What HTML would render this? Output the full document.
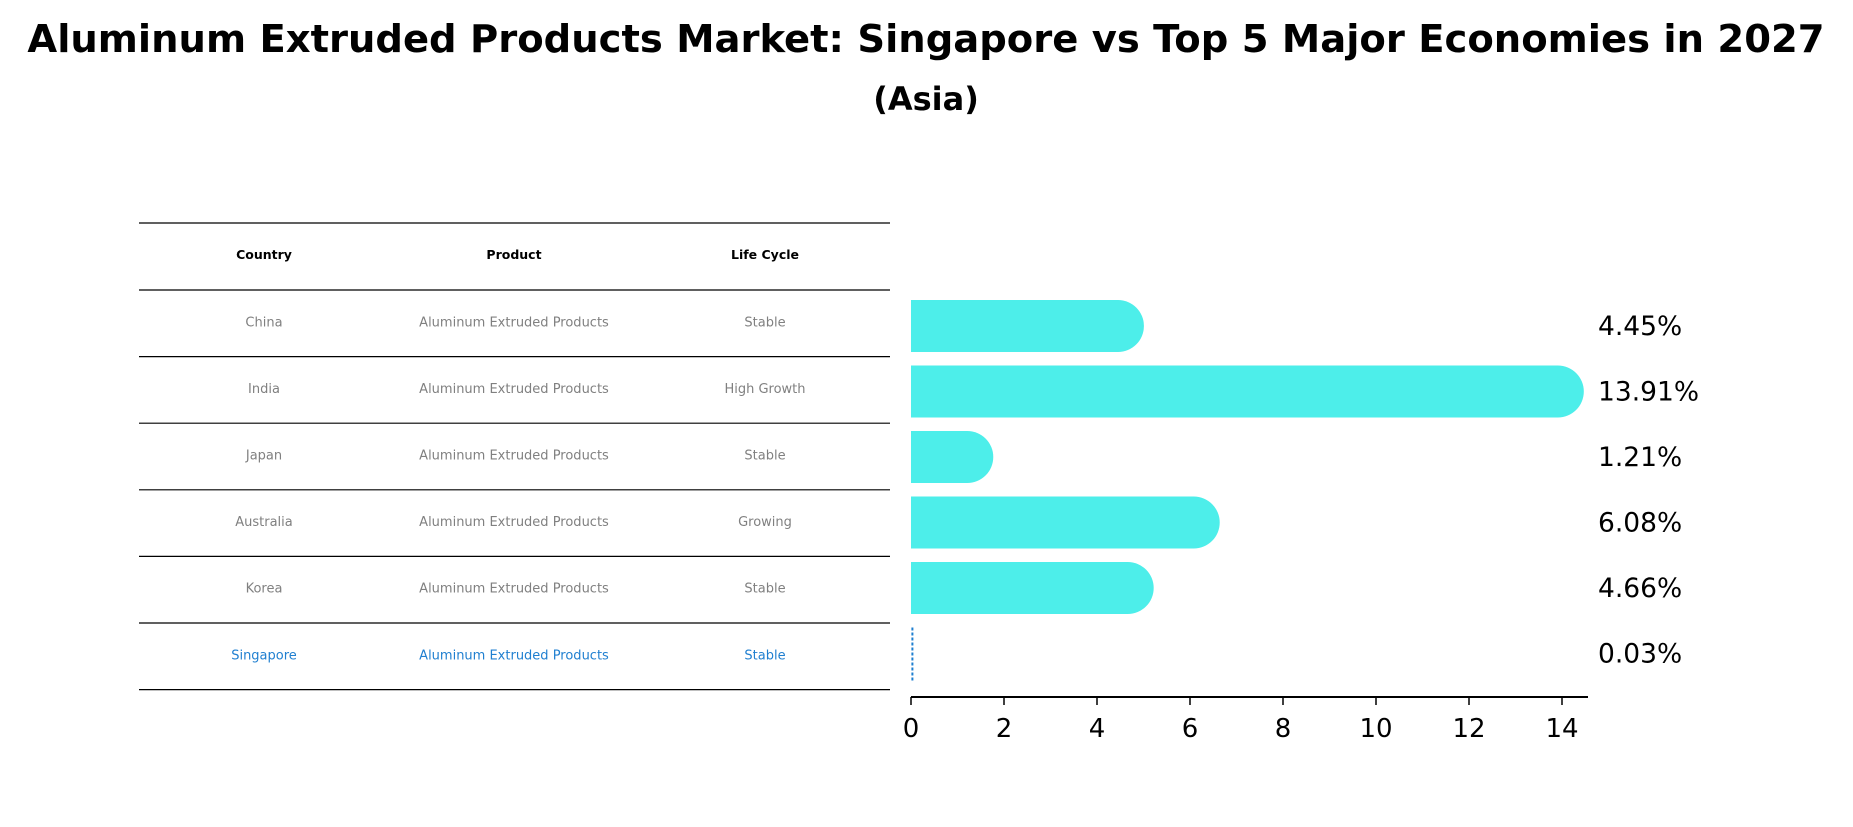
<!DOCTYPE html>
<html><head><meta charset="utf-8"><style>
body{margin:0;background:#fff;width:1853px;height:823px;overflow:hidden;font-family:"DejaVu Sans","Liberation Sans",sans-serif}
</style></head><body>
<svg width="1853" height="823" xmlns="http://www.w3.org/2000/svg" font-family="DejaVu Sans, Liberation Sans, sans-serif">
<text x="926" y="52" text-anchor="middle" font-size="38.5" font-weight="bold">Aluminum Extruded Products Market: Singapore vs Top 5 Major Economies in 2027</text>
<text x="926" y="110" text-anchor="middle" font-size="32" font-weight="bold">(Asia)</text>
<g id="table"></g>
<g id="bars"></g>
</svg>
<script>
const countries=["China","India","Japan","Australia","Korea","Singapore"];
const products=["Aluminum Extruded Products","Aluminum Extruded Products","Aluminum Extruded Products","Aluminum Extruded Products","Aluminum Extruded Products","Aluminum Extruded Products"];
const lifecycles=["Stable","High Growth","Stable","Growing","Stable","Stable"];
const values=[4.45,13.91,1.21,6.08,4.66,0.03];
const ticks=[0,2,4,6,8,10,12,14];
const NS="http://www.w3.org/2000/svg";
function mk(p,t,a){const e=document.createElementNS(NS,t);for(const k in a)e.setAttribute(k,a[k]);p.appendChild(e);return e;}
const tbl=document.getElementById('table'),bars=document.getElementById('bars');
const x0=911,ux=46.5,rowTop=290,rowH=66.6;
const xs=v=>x0+v*ux;
const cy=i=>326+i*65.5;
const lines=[223];for(let i=0;i<=6;i++)lines.push(rowTop+i*rowH);
lines.forEach(y=>{const l=mk(tbl,'line',{x1:139,x2:890,y1:y,y2:y,stroke:'#000','stroke-width':1.2});

});
const cols=[264,514,765];
["Country","Product","Life Cycle"].forEach((h,j)=>{const t=mk(tbl,'text',{x:cols[j],y:259,'text-anchor':'middle','font-size':12.5,'font-weight':'bold'});t.textContent=h;

});
countries.forEach((c,i)=>{const y=rowTop+i*rowH+rowH/2+3;const col=i===5?'#1f7fd0':'#808080';
[c,products[i],lifecycles[i]].forEach((s,j)=>{const t=mk(tbl,'text',{x:cols[j],y:y,'text-anchor':'middle','font-size':13,fill:col});t.textContent=s;

});});
values.forEach((v,i)=>{const c=cy(i),h=52,top=c-h/2;
if(i===5){const l=mk(bars,'line',{x1:xs(v),x2:xs(v),y1:top,y2:top+h+2,stroke:'#1f7fd0','stroke-width':2,'stroke-dasharray':'3,2'});

}
else{const w=xs(v)-x0;const p=mk(bars,'path',{d:`M${x0},${top} h${w} a26,26 0 0 1 0,${h} h${-w} z`,fill:'#4deeea'});

}
const t=mk(bars,'text',{x:1598,y:c+9,'font-size':26.5});t.textContent=v.toFixed(2)+'%';

});
const ax=mk(bars,'line',{x1:x0,x2:1588,y1:697,y2:697,stroke:'#000','stroke-width':2});


ticks.forEach(v=>{const l=mk(bars,'line',{x1:xs(v),x2:xs(v),y1:697,y2:705,stroke:'#000','stroke-width':1.5});


const t=mk(bars,'text',{x:xs(v),y:737,'text-anchor':'middle','font-size':26});t.textContent=v;

});
</script>
</body></html>
